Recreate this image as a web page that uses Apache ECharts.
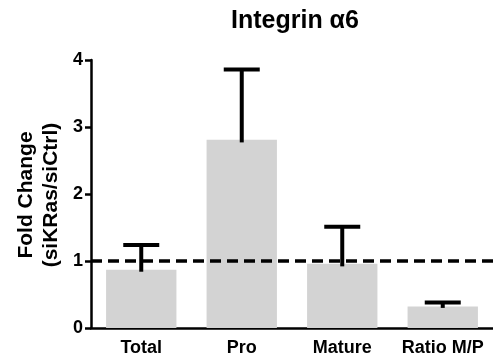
<!DOCTYPE html>
<html>
<head>
<meta charset="utf-8">
<script src="https://cdn.jsdelivr.net/npm/echarts@6/dist/echarts.min.js"></script>
<style>
  html, body { margin: 0; padding: 0; background: #fff; }
  #chart { width: 493px; height: 362px; }
</style>
</head>
<body>
<div id="chart"></div>
<script>
// 数据
var categories = ['Total', 'Pro', 'Mature', 'Ratio M/P'];
var means = [0.87, 2.81, 0.96, 0.32];
var errHigh = [1.24, 3.86, 1.51, 0.38];
var errLow = [0.84, 2.77, 0.92, 0.30];
var yTicks = [0, 1, 2, 3, 4];
var refValue = 1;

var myChart = echarts.init(document.getElementById('chart'));

var errData = categories.map(function(c, i) {
    return [i, errLow[i], errHigh[i]];
});

var options = {
    animation: false,
    title: {
        text: 'Integrin α6',
        left: 226,
        top: 4,
        textStyle: {
            fontFamily: 'Liberation Sans',
            fontWeight: 'bold',
            fontSize: 25,
            color: '#000'
        }
    },
    graphic: [{
        type: 'text',
        x: 39,
        y: 195,
        rotation: Math.PI / 2,
        style: {
            text: 'Fold Change\n(siKRas/siCtrl)',
            fontFamily: 'Liberation Sans',
            fontWeight: 'bold',
            fontSize: 21,
            lineHeight: 25,
            fill: '#000',
            align: 'center',
            verticalAlign: 'middle'
        }
    }],
    grid: {
        left: 91,
        right: 0,
        top: 60,
        bottom: 34
    },
    xAxis: {
        type: 'category',
        data: categories,
        axisLine: { lineStyle: { color: '#000', width: 2.5 } },
        axisTick: { alignWithLabel: true, length: 7, lineStyle: { color: '#000', width: 2.5 } },
        axisLabel: {
            interval: 0,
            hideOverlap: false,
            color: '#000',
            fontFamily: 'Liberation Sans',
            fontWeight: 'bold',
            fontSize: 18,
            margin: 11
        }
    },
    yAxis: {
        type: 'value',
        min: yTicks[0],
        max: yTicks[yTicks.length - 1],
        interval: 1,
        splitLine: { show: false },
        axisLine: { show: true, lineStyle: { color: '#000', width: 2.5 } },
        axisTick: { show: true, length: 6, lineStyle: { color: '#000', width: 2.5 } },
        axisLabel: {
            color: '#000',
            fontFamily: 'Liberation Sans',
            fontWeight: 'bold',
            fontSize: 18,
            margin: 8
        }
    },
    series: [{
        // 参考虚线 (y = 1)
        type: 'line',
        data: [],
        z: 1,
        markLine: {
            silent: true,
            symbol: 'none',
            label: { show: false },
            lineStyle: { color: '#000', type: [11, 6], width: 3.5 },
            data: [{ yAxis: refValue }]
        }
    }, {
        type: 'bar',
        data: means,
        barWidth: '70%',
        z: 3,
        itemStyle: { color: '#d3d3d3' }
    }, {
        type: 'custom',
        z: 4,
        data: errData,
        renderItem: function(params, api) {
            var x = api.value(0);
            var lo = api.coord([x, api.value(1)]);
            var hi = api.coord([x, api.value(2)]);
            var half = 18;
            var style = { stroke: '#000', lineWidth: 4 };
            return {
                type: 'group',
                children: [{
                    type: 'line',
                    shape: { x1: lo[0], y1: lo[1], x2: hi[0], y2: hi[1] },
                    style: style
                }, {
                    type: 'line',
                    shape: { x1: hi[0] - half, y1: hi[1], x2: hi[0] + half, y2: hi[1] },
                    style: style
                }]
            };
        }
    }]
};
myChart.setOption(options);
</script>
</body>
</html>
